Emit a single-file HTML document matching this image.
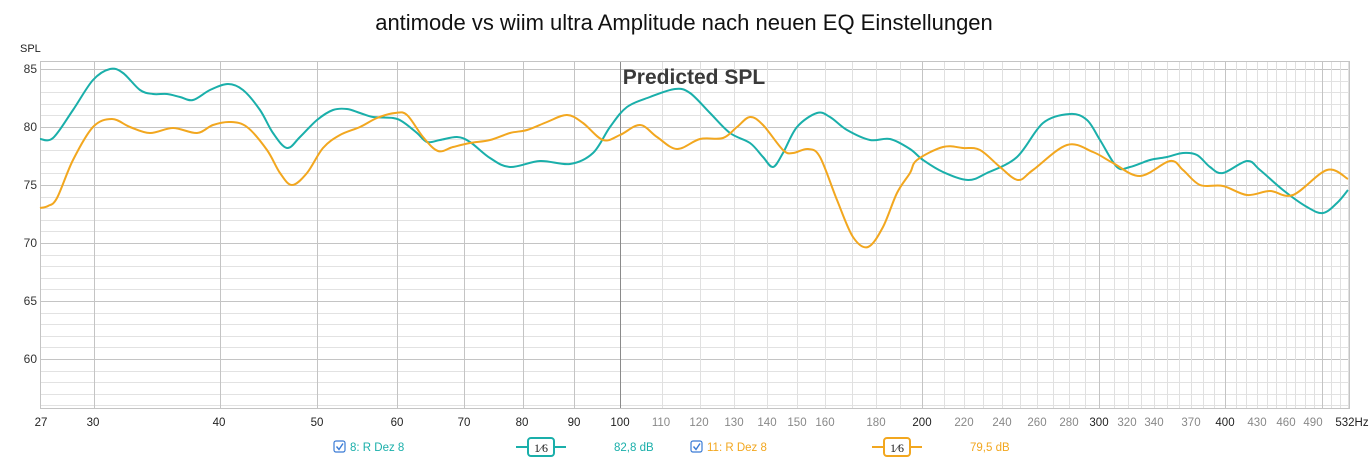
<!DOCTYPE html>
<html><head><meta charset="utf-8"><style>
body{margin:0;background:#fff;width:1369px;height:460px;overflow:hidden;font-family:"Liberation Sans",sans-serif}
</style></head><body>
<svg id="s" width="1369" height="460" xmlns="http://www.w3.org/2000/svg" font-family="Liberation Sans, sans-serif">
<rect width="1369" height="460" fill="#fff"/>
<g id="grid"></g>
<text x="684" y="30" font-size="22" text-anchor="middle" fill="#111">antimode vs wiim ultra Amplitude nach neuen EQ Einstellungen</text>
<text x="20" y="52" font-size="11" fill="#222">SPL</text>
<text x="694" y="84" font-size="21" font-weight="bold" text-anchor="middle" fill="#3a3a3a">Predicted SPL</text>
<g font-size="12" fill="#333" text-anchor="end">
<text x="37" y="73">85</text><text x="37" y="131">80</text><text x="37" y="189">75</text><text x="37" y="247">70</text><text x="37" y="305">65</text><text x="37" y="363">60</text>
</g>
<g font-size="11.5" text-anchor="middle" fill="#222">
<text x="41" y="426">27</text><text x="93" y="426">30</text><text x="219" y="426">40</text><text x="317" y="426">50</text><text x="397" y="426">60</text><text x="464" y="426">70</text><text x="522" y="426">80</text><text x="574" y="426">90</text><text x="620" y="426">100</text>
<text x="922" y="426">200</text><text x="1099" y="426">300</text><text x="1225" y="426">400</text><text x="1352" y="426">532Hz</text>
</g>
<g font-size="11.5" text-anchor="middle" fill="#888">
<text x="661" y="426">110</text><text x="699" y="426">120</text><text x="734" y="426">130</text><text x="767" y="426">140</text><text x="797" y="426">150</text><text x="825" y="426">160</text><text x="876" y="426">180</text>
<text x="964" y="426">220</text><text x="1002" y="426">240</text><text x="1037" y="426">260</text><text x="1069" y="426">280</text><text x="1127" y="426">320</text><text x="1154" y="426">340</text><text x="1191" y="426">370</text><text x="1257" y="426">430</text><text x="1286" y="426">460</text><text x="1313" y="426">490</text>
</g>
<polyline class="c" fill="none" stroke="#1aafaa" stroke-width="2" stroke-linejoin="round" points="40,139 53,138 73,110 93,80 110,69 123,73 140,90 153,94 167,94 180,97 193,100 210,90 228,84 243,90 260,110 273,133 287,148 300,137 317,120 333,110 347,109 360,113 373,117 393,118 403,122 417,133 427,142 440,140 457,137 470,142 490,158 510,167 540,161 570,164 593,153 610,127 627,107 650,97 675,89 690,93 710,113 730,133 750,143 763,157 773,167 783,153 797,127 817,113 830,117 847,130 870,140 890,139 910,149 923,160 943,172 968,180 987,173 1017,157 1043,123 1070,114 1087,120 1100,140 1117,167 1130,167 1150,160 1167,157 1183,153 1197,155 1210,167 1223,173 1247,161 1260,170 1283,190 1307,207 1323,213 1337,203 1348,190"/>
<polyline class="c" fill="none" stroke="#f2a71f" stroke-width="2" stroke-linejoin="round" points="40,208 48,206 57,198 73,160 93,127 112,119 130,127 150,133 173,128 197,133 213,125 230,122 247,127 267,150 280,173 292,185 307,173 323,148 340,135 360,127 377,118 395,113 407,115 423,137 438,151 453,147 470,143 490,140 510,133 527,130 547,122 567,115 583,123 603,140 620,135 640,125 657,137 677,149 700,139 723,138 737,127 750,117 763,125 783,150 793,153 808,149 820,157 837,200 853,237 868,247 883,227 897,193 910,173 917,160 943,147 963,148 980,150 1000,167 1018,180 1033,170 1067,145 1093,152 1113,163 1140,176 1170,161 1183,170 1200,185 1223,186 1247,195 1270,191 1293,195 1327,170 1348,179"/>
<!-- legend -->
<rect x="334" y="441" width="11" height="11" rx="2" fill="#fff" stroke="#3a7bd5" stroke-width="1.2"/>
<path d="M336.5 446.5 l2.5 3 l4 -6" fill="none" stroke="#3a7bd5" stroke-width="1.4"/>
<text x="350" y="451" font-size="11.5" fill="#1aafaa">8: R Dez 8</text>
<line x1="516" y1="447" x2="566" y2="447" stroke="#1aafaa" stroke-width="2"/>
<rect x="528" y="438" width="26" height="18" rx="3" fill="#fff" stroke="#1aafaa" stroke-width="2"/>
<text x="541" y="452" font-size="12" text-anchor="middle" fill="#222" font-family="Liberation Serif, serif">1⁄6</text>
<text x="614" y="451" font-size="11.5" fill="#1aafaa">82,8 dB</text>
<rect x="691" y="441" width="11" height="11" rx="2" fill="#fff" stroke="#3a7bd5" stroke-width="1.2"/>
<path d="M693.5 446.5 l2.5 3 l4 -6" fill="none" stroke="#3a7bd5" stroke-width="1.4"/>
<text x="707" y="451" font-size="11.5" fill="#f2a71f">11: R Dez 8</text>
<line x1="872" y1="447" x2="922" y2="447" stroke="#f2a71f" stroke-width="2"/>
<rect x="884" y="438" width="26" height="18" rx="3" fill="#fff" stroke="#f2a71f" stroke-width="2"/>
<text x="897" y="452" font-size="12" text-anchor="middle" fill="#222" font-family="Liberation Serif, serif">1⁄6</text>
<text x="970" y="451" font-size="11.5" fill="#f2a71f">79,5 dB</text>
</svg>
<script>
(function(){
var g=document.getElementById('grid'),ns='http://www.w3.org/2000/svg';
function ln(x1,y1,x2,y2,c){var l=document.createElementNS(ns,'line');l.setAttribute('x1',x1);l.setAttribute('y1',y1);l.setAttribute('x2',x2);l.setAttribute('y2',y2);l.setAttribute('stroke',c);l.setAttribute('stroke-width',1);g.appendChild(l);}
var L=40,R=1349,T=61,B=408;
function X(f){return 1225+1005*Math.log10(f/400);}
function Y(v){return 127+(80-v)*11.6;}
for(var v=56;v<=85;v++){var y=Math.round(Y(v))+0.5;ln(L,y,R,y,v%5==0?'#c4c4c4':'#e2e2e2');}
for(var f=110;f<=530;f+=10){if(f%100==0)continue;var x=Math.round(X(f))+0.5;ln(x,T,x,B,'#e0e0e0');}
[200,300,400,500].forEach(function(f){var x=Math.round(X(f))+0.5;ln(x,T,x,B,'#c4c4c4');});
[30,40,50,60,70,80,90].forEach(function(f){var x=Math.round(X(f))+0.5;ln(x,T,x,B,'#c4c4c4');});
var x=Math.round(X(100))+0.5;ln(x,T,x,B,'#8a8a8a');
var r=document.createElementNS(ns,'rect');r.setAttribute('x',L+0.5);r.setAttribute('y',T+0.5);r.setAttribute('width',R-L);r.setAttribute('height',B-T);r.setAttribute('fill','none');r.setAttribute('stroke','#c4c4c4');g.appendChild(r);
// smooth curves (Catmull-Rom)
var pls=document.querySelectorAll('polyline.c');
for(var i=0;i<pls.length;i++){var pl=pls[i];
 var p=pl.getAttribute('points').trim().split(/\s+/).map(function(s){return s.split(',').map(Number);});
 var d='M'+p[0][0]+','+p[0][1];
 for(var k=0;k<p.length-1;k++){var p0=p[k-1]||p[k],p1=p[k],p2=p[k+1],p3=p[k+2]||p2;
  var c1x=p1[0]+(p2[0]-p0[0])/6,c1y=p1[1]+(p2[1]-p0[1])/6,c2x=p2[0]-(p3[0]-p1[0])/6,c2y=p2[1]-(p3[1]-p1[1])/6;
  d+=' C'+c1x.toFixed(1)+','+c1y.toFixed(1)+' '+c2x.toFixed(1)+','+c2y.toFixed(1)+' '+p2[0]+','+p2[1];}
 var pa=document.createElementNS(ns,'path');pa.setAttribute('d',d);pa.setAttribute('fill','none');pa.setAttribute('stroke',pl.getAttribute('stroke'));pa.setAttribute('stroke-width','2');
 pl.parentNode.replaceChild(pa,pl);}
})();
</script>
</body></html>
